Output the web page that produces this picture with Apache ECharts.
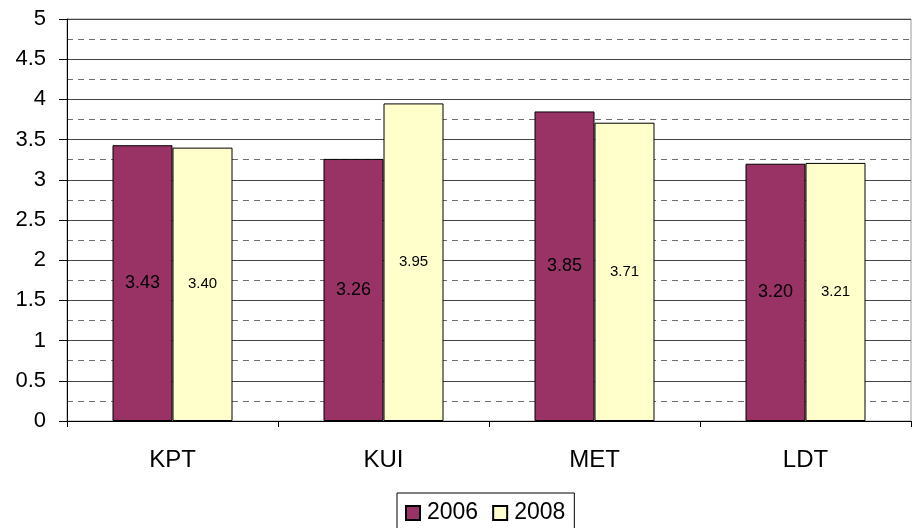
<!DOCTYPE html>
<html>
<head>
<meta charset="utf-8">
<script src="https://cdn.jsdelivr.net/npm/echarts@6/dist/echarts.min.js"></script>
<style>
  html, body { margin: 0; padding: 0; background: #fff; }
  #chart { width: 912px; height: 528px; }
</style>
</head>
<body>
<div id="chart"></div>
<script>
// Survey scores per dimension, two survey years
const categories = ['KPT', 'KUI', 'MET', 'LDT'];
const values2006 = [3.43, 3.26, 3.85, 3.20];
const values2008 = [3.40, 3.95, 3.71, 3.21];
const seriesNames = ['2006', '2008'];

const FONT = 'Liberation Sans, Arial, sans-serif';

const chart = echarts.init(document.getElementById('chart'), null, { renderer: 'canvas' });

chart.setOption({
  animation: false,
  backgroundColor: '#fff',
  textStyle: { fontFamily: FONT },
  grid: {
    left: 67, right: 1, top: 19, bottom: 107,
    show: true, borderColor: '#9a9a9a', borderWidth: 1
  },
  legend: {
    data: seriesNames,
    left: 397, top: 493,
    orient: 'horizontal',
    icon: 'rect',
    itemWidth: 14, itemHeight: 14, itemGap: 14,
    padding: [7, 9, 8, 8],
    borderColor: '#000', borderWidth: 1,
    textStyle: { fontSize: 23, lineHeight: 26, color: '#000', fontFamily: FONT, padding: [0, 0, 0, 2] }
  },
  xAxis: {
    type: 'category',
    data: categories,
    axisLine: { lineStyle: { color: '#000', width: 1 } },
    axisTick: { show: true, length: 6, interval: 0, lineStyle: { color: '#000' } },
    axisLabel: { fontSize: 24, color: '#000', margin: 27, fontFamily: FONT },
    splitLine: { show: false }
  },
  yAxis: {
    type: 'value',
    min: 0, max: 5, interval: 0.5,
    axisLine: { show: true, lineStyle: { color: '#000', width: 1 } },
    axisTick: { show: true, length: 8, lineStyle: { color: '#000' } },
    axisLabel: { fontSize: 22, color: '#000', margin: 21, fontFamily: FONT },
    splitLine: { show: true, lineStyle: { color: '#444', width: 1 } },
    minorTick: { show: false, splitNumber: 2 },
    minorSplitLine: { show: true, lineStyle: { color: '#6e6e6e', width: 1, type: [6, 5] } }
  },
  series: [
    {
      name: seriesNames[0],
      type: 'bar',
      data: values2006,
      barWidth: 60,
      barGap: '0%',
      itemStyle: { color: '#993366', borderColor: '#000', borderWidth: 1 },
      label: {
        show: true, position: 'inside', color: '#000',
        fontSize: 18, fontFamily: FONT,
        formatter: p => p.value.toFixed(2)
      }
    },
    {
      name: seriesNames[1],
      type: 'bar',
      data: values2008,
      barWidth: 60,
      itemStyle: { color: '#FFFFCC', borderColor: '#000', borderWidth: 1 },
      label: {
        show: true, position: 'inside', color: '#000',
        fontSize: 15, fontFamily: FONT,
        formatter: p => p.value.toFixed(2)
      }
    }
  ]
});
</script>
</body>
</html>
